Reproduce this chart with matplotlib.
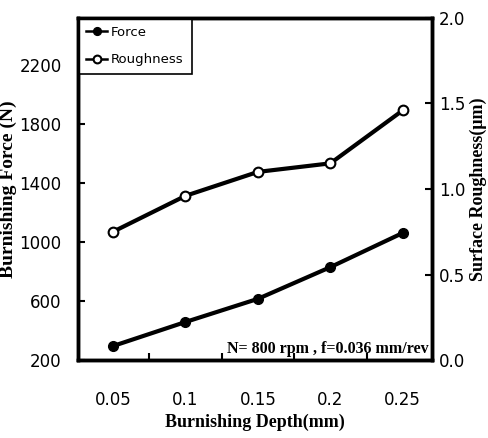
import matplotlib.pyplot as plt
import numpy as np

depth = [0.05, 0.1, 0.15, 0.2, 0.25]
force = [295, 458, 615, 830, 1062]
roughness = [0.75, 0.96, 1.10, 1.15, 1.46]

depth_labels = ['0.05', '0.1', '0.15', '0.2', '0.25']
force_ticks = [200, 600, 1000, 1400, 1800, 2200]
rough_ticks = [0.0, 0.5, 1.0, 1.5, 2.0]

fig = plt.figure(figsize=(4.89, 4.38), dpi=100)
ax = fig.add_axes([0.160, 0.178, 0.723, 0.781])
ax2 = ax.twinx()

l1, = ax.plot(depth, force, color='black', lw=3, marker='o', ms=7,
              mfc='black', mec='black', label='Force')
l2, = ax2.plot(depth, roughness, color='black', lw=3, marker='o', ms=7,
               mfc='white', mec='black', mew=1.5, label='Roughness')

ax.set_xlim(0.026, 0.27)
ax.set_ylim(200, 2520)
ax2.set_ylim(0, 2.0)

ax.set_xticks(depth)
ax.set_xticklabels(depth_labels)
ax.set_xticks([0.075, 0.125, 0.175, 0.225], minor=True)
ax.tick_params(axis='x', which='major', length=0, pad=22, labelsize=12)
ax.tick_params(axis='x', which='minor', direction='in', length=5, width=1.5)
ax.set_yticks(force_ticks)
ax.tick_params(axis='y', direction='in', length=5, width=1.5, labelsize=12, pad=12)
ax2.set_yticks(rough_ticks)
ax2.set_yticklabels(['0.0', '0.5', '1.0', '1.5', '2.0'])
ax2.tick_params(axis='y', direction='in', length=5, width=1.5, labelsize=12, pad=5)

for a in (ax, ax2):
    for s in a.spines.values():
        s.set_linewidth(2.5)

ax.set_xlabel('Burnishing Depth(mm)', labelpad=4, family='Liberation Serif',
              fontweight='bold', fontsize=13)
ax.set_ylabel('Burnishing Force (N)', labelpad=2, family='Liberation Serif',
              fontweight='bold', fontsize=14)
ax2.set_ylabel('Surface Roughness(\u03bcm)', labelpad=3, family='Liberation Serif',
               fontweight='bold', fontsize=13)

ax.text(0.268, 222, 'N= 800 rpm , f=0.036 mm/rev', ha='right', va='bottom',
        family='Liberation Serif', fontweight='bold', fontsize=11.5)

leg = ax.legend(handles=[l1, l2], loc='upper left', fontsize=9.5,
                fancybox=False, borderaxespad=0, handlelength=1.6,
                handletextpad=0.3, labelspacing=1.1, borderpad=0.6,
                markerscale=0.8, framealpha=1, edgecolor='black')
leg.get_frame().set_linewidth(1.2)
for h in leg.get_lines():
    h.set_linewidth(1.8)

fig.savefig('out.png', dpi=100)
